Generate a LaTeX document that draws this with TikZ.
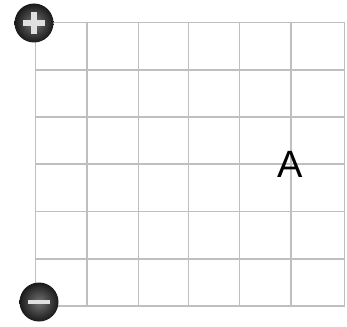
\documentclass[tikz,border=0pt]{standalone}
\usepackage{fontspec}
\setmainfont{Liberation Sans}
\begin{document}
\begin{tikzpicture}[x=1pt,y=-1pt,
  gridline/.style={draw=black!25,line width=1.6pt},
  knob/.style={circle,minimum size=39pt,inner sep=0pt,shading=radial,inner color=black!55,outer color=black!90,draw=none},
  signbar/.style={fill=white!88!black,draw=none}]
\useasboundingbox (0,0) rectangle (347,326);
% vertical lines
\foreach \x in {35.5,86.7,138.3,188.5,239.5,291,344.5}
  \draw[gridline] (\x,22.5) -- (\x,306);
% horizontal lines
\foreach \y in {22.5,69.8,117,164,211.3,258.7,306}
  \draw[gridline] (35.5,\y) -- (344.5,\y);
% plus knob
\node[knob] (plus) at (34,23) {};
\fill[signbar] ([xshift=-11pt,yshift=-2.6pt]plus.center) rectangle ([xshift=11pt,yshift=2.6pt]plus.center);
\fill[signbar] ([xshift=-2.6pt,yshift=-11pt]plus.center) rectangle ([xshift=2.6pt,yshift=11pt]plus.center);
% minus knob
\node[knob] (minus) at (39,302) {};
\fill[signbar] ([xshift=-11pt,yshift=-2.2pt]minus.center) rectangle ([xshift=11pt,yshift=2.2pt]minus.center);
% label
\node[inner sep=0pt,font=\fontsize{38}{40}\selectfont] (A) at (290.5,164) {A};
\end{tikzpicture}
\end{document}
